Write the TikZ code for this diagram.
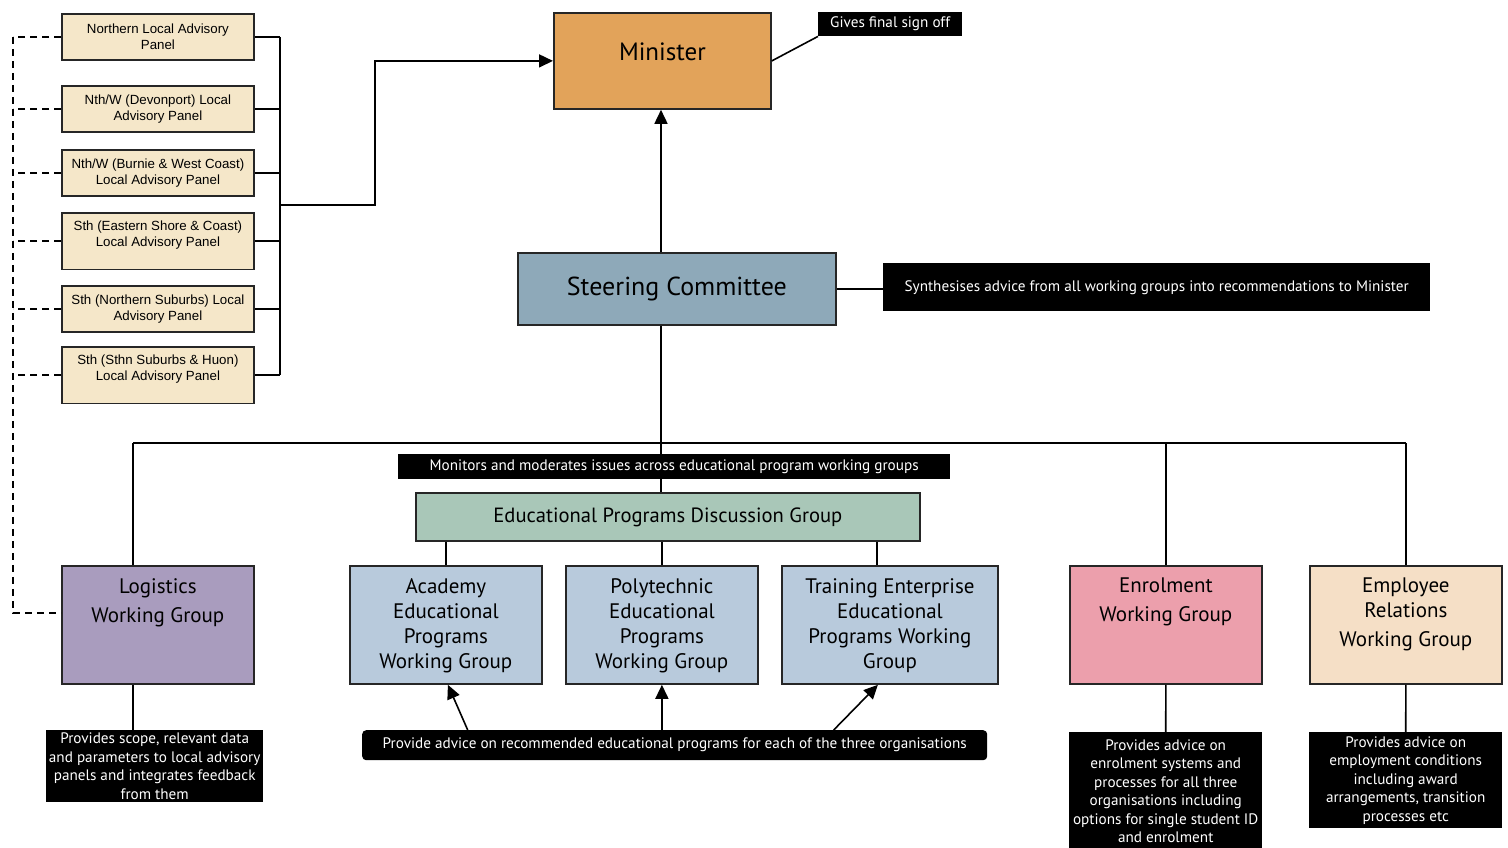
\documentclass[tikz,border=0pt]{standalone}
\usepackage{fontspec}
\setmainfont{PT Sans}
\newfontfamily\panelfont{Liberation Sans}
\usepackage{xcolor}
\usetikzlibrary{arrows.meta, positioning, calc}

\definecolor{panelfill}{HTML}{F5E7C9}
\definecolor{ministerfill}{HTML}{E2A35A}
\definecolor{steerfill}{HTML}{8EA9B9}
\definecolor{discfill}{HTML}{A9C7B8}
\definecolor{edufill}{HTML}{B8CADC}
\definecolor{logifill}{HTML}{A99CBE}
\definecolor{enrolfill}{HTML}{EC9FAC}
\definecolor{emplfill}{HTML}{F5DFC6}

\begin{document}
\begin{tikzpicture}[x=1pt, y=-1pt,
    box/.style={draw=black!85, line width=1.8pt, anchor=north west, align=center},
    panel/.style={box, fill=panelfill, minimum width=192pt, minimum height=46pt, inner ysep=8pt, font=\panelfont\fontsize{13.3}{16}\selectfont},
    tallpanel/.style={panel, text depth=15pt},
    wg/.style={box, minimum width=192pt, minimum height=118pt},
    wgtext/.style={align=center, inner sep=3pt, font=\fontsize{21}{25}\selectfont},
    note/.style={fill=black, text=white, anchor=north west, align=center, inner xsep=2pt, inner ysep=2pt, font=\fontsize{15.2}{18.5}\selectfont},
    link/.style={line width=1.6pt},
    dashlink/.style={link, dash pattern=on 7pt off 5pt},
    arrow/.style={link, -{Triangle[length=14pt, width=13pt]}}
  ]
  \useasboundingbox (0,0) rectangle (1508,848);

  % Local advisory panels
  \node[panel] (pnorth) at (61,13) {Northern Local Advisory\\Panel};
  \node[panel] (pdevon) at (61,85) {Nth/W (Devonport) Local\\Advisory Panel};
  \node[panel] (pburnie) at (61,149) {Nth/W (Burnie \& West Coast)\\Local Advisory Panel};
  \node[tallpanel] (peast) at (61,212) {Sth (Eastern Shore \& Coast)\\Local Advisory Panel};
  \node[panel] (pnsub) at (61,285) {Sth (Northern Suburbs) Local\\Advisory Panel};
  \node[tallpanel] (phuon) at (61,346) {Sth (Sthn Suburbs \& Huon)\\Local Advisory Panel};

  % Minister and steering committee
  \node[box, fill=ministerfill, minimum width=217pt, minimum height=96pt] (minister) at (553,12) {};
  \node[wgtext, font=\fontsize{25}{28}\selectfont, below=28pt of minister.north] (ministertext) {Minister};
  \node[note, minimum width=144pt, minimum height=24pt] (signoff) at (818,12) {Gives final sign off};
  \node[box, fill=steerfill, minimum width=318pt, minimum height=72pt, font=\fontsize{26}{30}\selectfont] (steering) at (517,252) {Steering Committee};
  \node[note, minimum width=547pt, minimum height=48pt] (synth) at (883,263) {Synthesises advice from all working groups into recommendations to Minister};

  % Discussion group
  \node[box, fill=discfill, minimum width=504pt, minimum height=48pt, font=\fontsize{20.6}{24}\selectfont] (discussion) at (415,492) {Educational Programs Discussion Group};

  % Working groups
  \node[wg, fill=logifill] (logi) at (61,565) {};
  \node[wgtext, below=10pt of logi.north] (logitext) {Logistics\\[4pt]Working Group};
  \node[wg, fill=edufill] (acad) at (349,565) {};
  \node[wgtext, below=10pt of acad.north] (acadtext) {Academy\\Educational\\Programs\\Working Group};
  \node[wg, fill=edufill] (poly) at (565,565) {};
  \node[wgtext, below=10pt of poly.north] (polytext) {Polytechnic\\Educational\\Programs\\Working Group};
  \node[wg, fill=edufill, minimum width=216pt] (train) at (781,565) {};
  \node[wgtext, below=10pt of train.north] (traintext) {Training Enterprise\\Educational\\Programs Working\\Group};
  \node[wg, fill=enrolfill] (enrol) at (1069,565) {};
  \node[wgtext, below=10pt of enrol.north] (enroltext) {Enrolment\\[4pt]Working Group};
  \node[wg, fill=emplfill] (empl) at (1309,565) {};
  \node[wgtext, below=10pt of empl.north] (empltext) {Employee\\Relations\\[4pt]Working Group};

  % Notes under the groups
  \node[note, minimum width=625pt, minimum height=30pt, rounded corners=4pt] (advice) at (362,730) {Provide advice on recommended educational programs for each of the three organisations};
  \node[note, minimum width=217pt, minimum height=72pt] (loginote) at (46,730) {Provides scope, relevant data\\and parameters to local advisory\\panels and integrates feedback\\from them};
  \node[note, minimum width=193pt, minimum height=118pt] (enrolnote) at (1069,732) {Provides advice on\\enrolment systems and\\processes for all three\\organisations including\\options for single student ID\\and enrolment};
  \node[note, minimum width=193pt, minimum height=96pt] (emplnote) at (1309,732) {Provides advice on\\employment conditions\\including award\\arrangements, transition\\processes etc};

  % Junctions
  \coordinate (brk) at (280,205);
  \coordinate (elbow) at (375,205);
  \coordinate (dashx) at (13,0);
  \coordinate (spine) at (661,443);
  \coordinate (busl) at (133,443);
  \coordinate (busr) at (1406,443);
  \coordinate (logiin) at ([yshift=12pt]logi.west);
  \coordinate (trainin) at (877,565);

  % Panels to minister, dashed feedback to logistics
  \foreach \p in {pnorth,pdevon,pburnie,peast,pnsub,phuon}{
    \draw[link] (\p.east) -- (\p.east -| brk);
    \draw[dashlink] (\p.west) -- (\p.west -| dashx);
  }
  \draw[link] (pnorth.east -| brk) -- (phuon.east -| brk);
  \draw[arrow] (brk) -- (elbow) |- (minister.west);
  \draw[dashlink] (pnorth.west -| dashx) -- (logiin -| dashx) -- (logiin);

  % Minister and steering committee
  \draw[link] (minister.east) -- (signoff.south west);
  \draw[arrow] (spine |- steering.north) -- (spine |- minister.south);
  \draw[link] (steering.east) -- (steering.east -| synth.west);

  % Tree below steering committee
  \draw[link] (spine |- steering.south) -- (spine |- discussion.north);
  \draw[link] (busl) -- (busr);
  \draw[link] (busl) -- (busl |- logi.north);
  \draw[link] (busr) -- (busr |- empl.north);
  \draw[link] (busr -| enrol.north) -- (enrol.north);

  % Discussion group to education groups
  \draw[link] (discussion.south -| acad.north) -- (acad.north);
  \draw[link] (discussion.south -| poly.north) -- (poly.north);
  \draw[link] (discussion.south -| trainin) -- (trainin);

  % Advice arrows
  \draw[arrow] ([xshift=-207pt]advice.north) -- ([xshift=2pt]acad.south);
  \draw[arrow] (advice.north -| poly.south) -- (poly.south);
  \draw[arrow] ([xshift=159pt]advice.north) -- ([xshift=-12pt]train.south);

  % Groups to their notes
  \draw[link] (busl |- logi.south) -- (busl |- loginote.north);
  \draw[link] (enrol.south) -- (enrolnote.north);
  \draw[link] (empl.south) -- (emplnote.north);

  % Note over the spine
  \node[note, minimum width=552pt, minimum height=25pt] (monitors) at (398,454) {Monitors and moderates issues across educational program working groups};
\end{tikzpicture}
\end{document}
